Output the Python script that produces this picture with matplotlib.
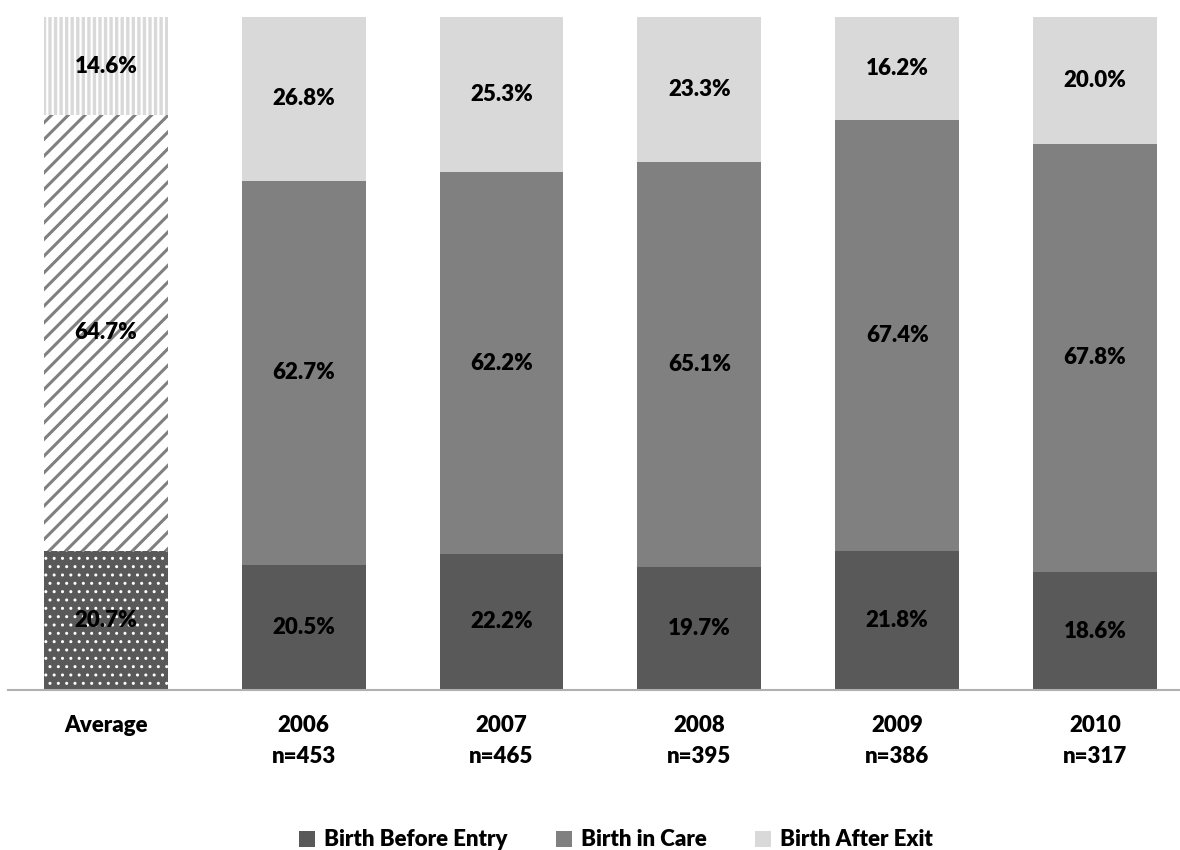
import matplotlib.pyplot as plt
import numpy as np

plt.rcParams['font.family'] = ['Lato', 'DejaVu Sans']
plt.rcParams['font.weight'] = 'bold'

categories = ["Average", "2006\nn=453", "2007\nn=465", "2008\nn=395", "2009\nn=386", "2010\nn=317"]
before_entry = [20.7, 20.5, 22.2, 19.7, 21.8, 18.6]
in_care = [64.7, 62.7, 62.2, 65.1, 67.4, 67.8]
after_exit = [14.6, 26.8, 25.3, 23.3, 16.2, 20.0]

c_dark = "#595959"
c_mid = "#808080"
c_light = "#d9d9d9"

fig = plt.figure(figsize=(11.8, 8.5), dpi=100)
ax = fig.add_axes([8/1180, 1-690/850, 1-8/1180, (690-17)/850])

x = np.arange(len(categories))
w = 0.626
before = np.array(before_entry)
care = np.array(in_care)
after = np.array(after_exit)

# 100% stacked: shares are scaled so each bar fills the full height
tot = before + care + after
sb = before / tot * 100
sc = care / tot * 100
sa = after / tot * 100

ax.bar(x[1:], sb[1:], w, color=c_dark, lw=0, label="Birth Before Entry")
ax.bar(x[1:], sc[1:], w, bottom=sb[1:], color=c_mid, lw=0, label="Birth in Care")
ax.bar(x[1:], sa[1:], w, bottom=sb[1:]+sc[1:], color=c_light, lw=0, label="Birth After Exit")

# average bar with hatch patterns
b1 = ax.bar(x[0], sb[0], w, facecolor=c_dark, edgecolor="white", hatch="..", lw=0)
b2 = ax.bar(x[0], sc[0], w, bottom=sb[0], facecolor="white", edgecolor=c_mid, hatch="//", lw=0)
b3 = ax.bar(x[0], sa[0], w, bottom=sb[0]+sc[0], facecolor=c_light, edgecolor="white", hatch="|||", lw=0)
for bars, hlw in ((b1, 1.0), (b2, 2.2), (b3, 1.6)):
    for p in bars:
        if hasattr(p, "set_hatch_linewidth"):
            p.set_hatch_linewidth(hlw)

fs = 16
for i in range(len(categories)):
    ax.text(x[i], sb[i]/2, "%.1f%%" % before[i], ha="center", va="center", fontsize=fs, fontweight="heavy")
    ax.text(x[i], sb[i]+sc[i]/2, "%.1f%%" % care[i], ha="center", va="center", fontsize=fs, fontweight="heavy")
    ax.text(x[i], sb[i]+sc[i]+sa[i]/2, "%.1f%%" % after[i], ha="center", va="center", fontsize=fs, fontweight="heavy")

ax.set_xlim(-0.495, 5.43)
ax.set_ylim(0, 100)
ax.set_xticks(x)
ax.set_xticklabels(categories, fontsize=fs, fontweight="heavy", linespacing=1.6, va="top")
ax.tick_params(axis="x", length=0, pad=18)
ax.set_yticks([])
for s in ["top", "right", "left"]:
    ax.spines[s].set_visible(False)
ax.spines["bottom"].set_color("#b0b0b0")
ax.spines["bottom"].set_linewidth(1.5)

fig.legend(loc="center", bbox_to_anchor=(616/1180, 1-840/850), ncol=3, frameon=False,
           handlelength=0.7, handleheight=0.7, handletextpad=0.4, columnspacing=2.2,
           prop={"weight": "heavy", "size": fs})

plt.savefig("out.png", dpi=100)
